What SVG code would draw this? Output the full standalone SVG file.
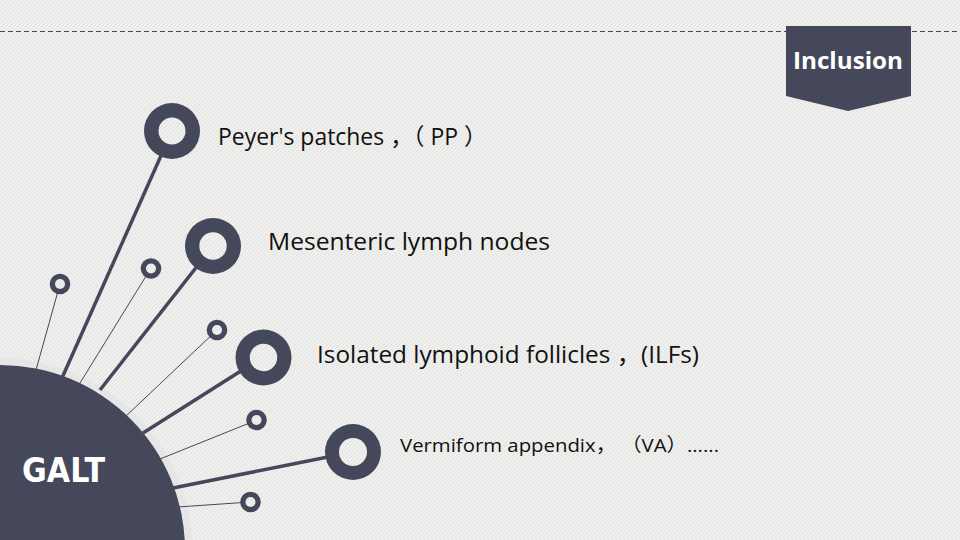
<svg xmlns="http://www.w3.org/2000/svg" width="960" height="540" viewBox="0 0 960 540">
<defs>
<pattern id="bg" patternUnits="userSpaceOnUse" width="4" height="4">
<rect width="4" height="4" fill="#efefed"/>
<path d="M-1,1 L1,-1 M0,4 L4,0 M3,5 L5,3" stroke="#e2e2e0" stroke-width="1"/>
</pattern>
<style>
.dark{fill:#45485a}
.hole{fill:url(#bg)}
.thick{stroke:#45485a;stroke-width:3.5;fill:none}
.thin{stroke:#45485a;stroke-width:1;fill:none}
.lbl{font-family:"Open Sans","Noto Sans","Noto Sans CJK SC",sans-serif;fill:#111}
</style>
</defs>
<rect width="960" height="540" fill="url(#bg)"/>
<line x1="0" y1="31.5" x2="960" y2="31.5" stroke="#4a4a4a" stroke-width="1" stroke-dasharray="5,3"/>
<g id="banner">
<path d="M786,26 H911 V96 L848,111 L786,96 Z" class="dark"/>
<text x="848" y="69" text-anchor="middle" font-family="Open Sans, Noto Sans, sans-serif" font-weight="bold" font-size="23" fill="#fff" textLength="110" lengthAdjust="spacingAndGlyphs">Inclusion</text>
</g>
<circle cx="0" cy="550" r="192" fill="#e6e6e6"/>
<g id="connectors">
<line class="thin" x1="36" y1="370" x2="60" y2="284"/>
<line class="thick" x1="62" y1="378" x2="172" y2="131"/>
<line class="thin" x1="80" y1="383" x2="151" y2="268"/>
<line class="thick" x1="100" y1="390" x2="213" y2="246"/>
<line class="thin" x1="126" y1="416" x2="217" y2="330"/>
<line class="thick" x1="143" y1="433" x2="263" y2="357"/>
<line class="thin" x1="160" y1="459" x2="257" y2="420"/>
<line class="thick" x1="173" y1="488" x2="353" y2="452"/>
<line class="thin" x1="178" y1="507" x2="250" y2="502"/>
</g>
<g id="galt">
<circle cx="0" cy="550" r="185" class="dark"/>
<text x="22" y="482" font-family="DejaVu Sans, sans-serif" font-weight="bold" font-size="34" fill="#fff" textLength="83" lengthAdjust="spacingAndGlyphs">GALT</text>
</g>
<g id="ring-a"><circle cx="60" cy="284" r="10.3" class="dark"/><circle cx="60" cy="284" r="5" class="hole"/></g>
<g id="ring-b"><circle cx="151" cy="268.5" r="10.3" class="dark"/><circle cx="151" cy="268.5" r="5" class="hole"/></g>
<g id="ring-c"><circle cx="217" cy="330" r="10.3" class="dark"/><circle cx="217" cy="330" r="5" class="hole"/></g>
<g id="ring-d"><circle cx="256.5" cy="420" r="10.3" class="dark"/><circle cx="256.5" cy="420" r="5" class="hole"/></g>
<g id="ring-e"><circle cx="250.5" cy="502" r="10.3" class="dark"/><circle cx="250.5" cy="502" r="5" class="hole"/></g>
<g id="node-pp">
<circle cx="172" cy="131" r="28" class="dark"/><circle cx="172" cy="131" r="13.5" class="hole"/>
<text class="lbl" x="218" y="145" font-size="23" textLength="269" lengthAdjust="spacingAndGlyphs">Peyer's patches ，（ PP ）</text>
</g>
<g id="node-mln">
<circle cx="213" cy="246" r="28" class="dark"/><circle cx="213" cy="246" r="13.7" class="hole"/>
<text class="lbl" x="268" y="250" font-size="23" textLength="282" lengthAdjust="spacingAndGlyphs">Mesenteric lymph nodes</text>
</g>
<g id="node-ilf">
<circle cx="263.5" cy="357.5" r="28" class="dark"/><circle cx="263.5" cy="357.5" r="13.7" class="hole"/>
<text class="lbl" x="317" y="363" font-size="23" textLength="382" lengthAdjust="spacingAndGlyphs">Isolated lymphoid follicles ，(ILFs)</text>
</g>
<g id="node-va">
<circle cx="353" cy="452" r="28" class="dark"/><circle cx="353" cy="452" r="14" class="hole"/>
<text class="lbl" x="400" y="452" font-size="19" textLength="319" lengthAdjust="spacingAndGlyphs">Vermiform appendix， （VA）......</text>
</g>
</svg>
